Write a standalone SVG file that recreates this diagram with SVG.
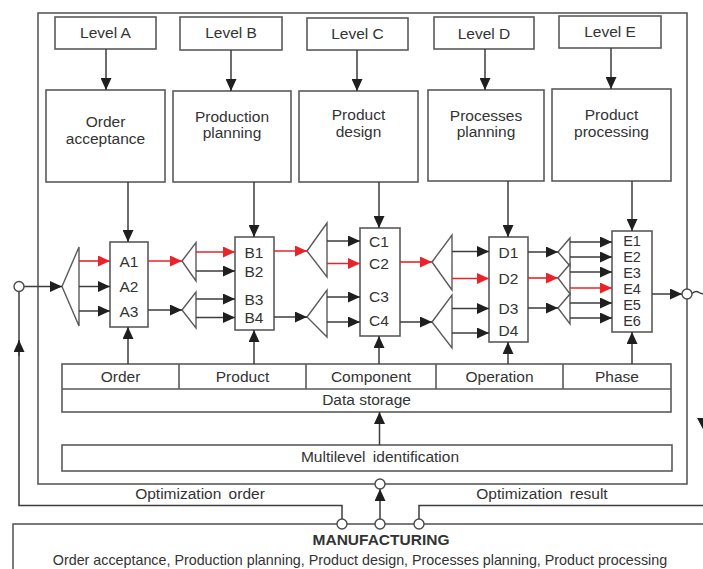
<svg xmlns="http://www.w3.org/2000/svg" width="703" height="569" viewBox="0 0 703 569">
  <style>
    .box { fill: #ffffff; stroke: #5a5a5a; stroke-width: 1.6; }
    .fan { fill: #ffffff; stroke: #5a5a5a; stroke-width: 1.4; }
    .ln { fill: none; stroke: #3d3d3d; stroke-width: 1.5; }
    .red { fill: none; stroke: #e8242a; stroke-width: 1.6; }
    .dot { fill: #ffffff; stroke: #4a4a4a; stroke-width: 1.4; }
    text { font-family: "Liberation Sans", Arial, sans-serif; font-size: 15.5px; fill: #333333; text-anchor: middle; }
    .bold { font-weight: bold; font-size: 15.5px; }
    .small { font-size: 14.5px; }
    .ws { word-spacing: 3px; }
  </style>
  <defs>
    <marker id="ah" markerUnits="userSpaceOnUse" markerWidth="12" markerHeight="11" refX="12" refY="5.5" orient="auto">
      <path d="M0,0 L12,5.5 L0,11 z" fill="#1f1f1f"/>
    </marker>
    <marker id="ahr" markerUnits="userSpaceOnUse" markerWidth="12" markerHeight="11" refX="12" refY="5.5" orient="auto">
      <path d="M0,0 L12,5.5 L0,11 z" fill="#e8242a"/>
    </marker>
  </defs>

  <rect width="703" height="569" fill="#ffffff"/>

  <!-- outer system frame -->
  <g id="frame">
    <rect class="box" x="38" y="13" width="649" height="471"/>
  </g>

  <!-- level headers -->
  <g id="level-a"><rect class="box" x="55" y="17" width="101" height="32"/><text x="105.5" y="37.5">Level A</text></g>
  <g id="level-b"><rect class="box" x="180" y="17" width="102" height="33"/><text x="231" y="38">Level B</text></g>
  <g id="level-c"><rect class="box" x="307" y="18" width="101" height="32"/><text x="357.5" y="39">Level C</text></g>
  <g id="level-d"><rect class="box" x="434" y="17" width="100" height="32"/><text x="484" y="38.5">Level D</text></g>
  <g id="level-e"><rect class="box" x="559" y="16" width="102" height="32"/><text x="610" y="37">Level E</text></g>

  <!-- function blocks -->
  <g id="order-acceptance"><rect class="box" x="46" y="90" width="119" height="92"/><text x="105.5" y="127">Order</text><text x="105.5" y="144">acceptance</text></g>
  <g id="production-planning"><rect class="box" x="173" y="91" width="118" height="91"/><text x="232" y="121.5">Production</text><text x="232" y="138">planning</text></g>
  <g id="product-design"><rect class="box" x="299" y="91" width="119" height="91"/><text x="358.5" y="120">Product</text><text x="358.5" y="136.5">design</text></g>
  <g id="processes-planning"><rect class="box" x="428" y="90" width="116" height="91"/><text x="486" y="120.5">Processes</text><text x="486" y="137">planning</text></g>
  <g id="product-processing"><rect class="box" x="552" y="89" width="119" height="92"/><text x="611.5" y="120">Product</text><text x="611.5" y="136.5">processing</text></g>

  <!-- element stacks -->
  <g id="stack-a">
    <rect class="box" x="110" y="242" width="38" height="85"/>
    <text x="129" y="266.5">A1</text><text x="129" y="292">A2</text><text x="129" y="316.5">A3</text>
  </g>
  <g id="stack-b">
    <rect class="box" x="235" y="237" width="39" height="93"/>
    <text x="254" y="257.5">B1</text><text x="254" y="276.5">B2</text><text x="254" y="304.5">B3</text><text x="254" y="323">B4</text>
  </g>
  <g id="stack-c">
    <rect class="box" x="360" y="228" width="40" height="108"/>
    <text x="379" y="246.5">C1</text><text x="379" y="269">C2</text><text x="379" y="302">C3</text><text x="379" y="326">C4</text>
  </g>
  <g id="stack-d">
    <rect class="box" x="489" y="237" width="39" height="105"/>
    <text x="508.5" y="257.5">D1</text><text x="508.5" y="283.5">D2</text><text x="508.5" y="313.5">D3</text><text x="508.5" y="335.5">D4</text>
  </g>
  <g id="stack-e">
    <rect class="box" x="612" y="231" width="40" height="101"/>
    <text class="small" x="632" y="246">E1</text><text class="small" x="632" y="262">E2</text><text class="small" x="632" y="278">E3</text>
    <text class="small" x="632" y="294">E4</text><text class="small" x="632" y="310">E5</text><text class="small" x="632" y="326">E6</text>
  </g>

  <!-- distribution fans -->
  <g id="fans">
    <polygon class="fan" points="62,286.5 79,247 79,326"/>
    <polygon class="fan" points="182,261 196,242.5 196,281"/>
    <polygon class="fan" points="182,310 196,292 196,328"/>
    <polygon class="fan" points="307,251 327,223 327,277"/>
    <polygon class="fan" points="307,317 327,290 327,337"/>
    <polygon class="fan" points="432,262 452,235 452,290"/>
    <polygon class="fan" points="432,322 452,295 452,348"/>
    <polygon class="fan" points="558,252 570,238 570,266"/>
    <polygon class="fan" points="558,278 570,264 570,294"/>
    <polygon class="fan" points="558,308 570,294 570,324"/>
  </g>

  <!-- data storage table -->
  <g id="data-storage">
    <rect class="box" x="62" y="364" width="609" height="48"/>
    <path class="box" d="M62,389 H671 M179,364 V389 M306,364 V389 M436,364 V389 M563,364 V389" fill="none"/>
    <text x="120.5" y="382">Order</text>
    <text x="242.5" y="382">Product</text>
    <text x="371" y="382">Component</text>
    <text x="499.5" y="382">Operation</text>
    <text x="617" y="382">Phase</text>
    <text x="366.5" y="405">Data storage</text>
  </g>

  <g id="multilevel-identification">
    <rect class="box" x="62" y="445" width="610" height="26"/>
    <text class="ws" x="380" y="462">Multilevel identification</text>
  </g>

  <g id="manufacturing">
    <rect class="box" x="13" y="524" width="700" height="60"/>
    <text class="bold" x="381" y="545">MANUFACTURING</text>
    <text class="small" x="360" y="565" style="font-size:14.3px">Order acceptance, Production planning, Product design, Processes planning, Product processing</text>
  </g>

  <g id="labels">
    <text class="ws" x="200" y="498.5">Optimization order</text>
    <text class="ws" x="542" y="498.5">Optimization result</text>
  </g>

  <!-- connectors -->
  <g id="connectors">
    <!-- level to function -->
    <line class="ln" x1="106" y1="49" x2="106" y2="90" marker-end="url(#ah)"/>
    <line class="ln" x1="231" y1="50" x2="231" y2="91" marker-end="url(#ah)"/>
    <line class="ln" x1="357" y1="50" x2="357" y2="91" marker-end="url(#ah)"/>
    <line class="ln" x1="485" y1="49" x2="485" y2="90" marker-end="url(#ah)"/>
    <line class="ln" x1="611" y1="48" x2="611" y2="89" marker-end="url(#ah)"/>
    <!-- function to stack -->
    <line class="ln" x1="128" y1="182" x2="128" y2="242" marker-end="url(#ah)"/>
    <line class="ln" x1="254" y1="182" x2="254" y2="237" marker-end="url(#ah)"/>
    <line class="ln" x1="379" y1="182" x2="379" y2="228" marker-end="url(#ah)"/>
    <line class="ln" x1="508" y1="181" x2="508" y2="237" marker-end="url(#ah)"/>
    <line class="ln" x1="632" y1="181" x2="632" y2="231" marker-end="url(#ah)"/>
    <!-- storage to stack -->
    <line class="ln" x1="128" y1="364" x2="128" y2="327" marker-end="url(#ah)"/>
    <line class="ln" x1="254" y1="364" x2="254" y2="330" marker-end="url(#ah)"/>
    <line class="ln" x1="379" y1="364" x2="379" y2="336" marker-end="url(#ah)"/>
    <line class="ln" x1="508" y1="364" x2="508" y2="342" marker-end="url(#ah)"/>
    <line class="ln" x1="632" y1="364" x2="632" y2="332" marker-end="url(#ah)"/>
    <line class="ln" x1="379.5" y1="445" x2="379.5" y2="412" marker-end="url(#ah)"/>

    <!-- input -->
    <line class="ln" x1="24" y1="286.5" x2="62" y2="286.5" marker-end="url(#ah)"/>
    <line class="red" x1="79" y1="261" x2="110" y2="261" marker-end="url(#ahr)"/>
    <line class="ln" x1="79" y1="286.5" x2="110" y2="286.5" marker-end="url(#ah)"/>
    <line class="ln" x1="79" y1="311" x2="110" y2="311" marker-end="url(#ah)"/>

    <!-- A to B -->
    <line class="red" x1="148" y1="261" x2="182" y2="261" marker-end="url(#ahr)"/>
    <line class="ln" x1="148" y1="310" x2="182" y2="310" marker-end="url(#ah)"/>
    <line class="red" x1="196" y1="252" x2="235" y2="252" marker-end="url(#ahr)"/>
    <line class="ln" x1="196" y1="271" x2="235" y2="271" marker-end="url(#ah)"/>
    <line class="ln" x1="196" y1="299" x2="235" y2="299" marker-end="url(#ah)"/>
    <line class="ln" x1="196" y1="317.5" x2="235" y2="317.5" marker-end="url(#ah)"/>

    <!-- B to C -->
    <line class="red" x1="274" y1="251" x2="307" y2="251" marker-end="url(#ahr)"/>
    <line class="ln" x1="274" y1="317" x2="307" y2="317" marker-end="url(#ah)"/>
    <line class="ln" x1="327" y1="241" x2="360" y2="241" marker-end="url(#ah)"/>
    <line class="red" x1="327" y1="263.5" x2="360" y2="263.5" marker-end="url(#ahr)"/>
    <line class="ln" x1="327" y1="297" x2="360" y2="297" marker-end="url(#ah)"/>
    <line class="ln" x1="327" y1="322" x2="360" y2="322" marker-end="url(#ah)"/>

    <!-- C to D -->
    <line class="red" x1="400" y1="262" x2="432" y2="262" marker-end="url(#ahr)"/>
    <line class="ln" x1="400" y1="322" x2="432" y2="322" marker-end="url(#ah)"/>
    <line class="ln" x1="452" y1="251.5" x2="489" y2="251.5" marker-end="url(#ah)"/>
    <line class="red" x1="452" y1="278.5" x2="489" y2="278.5" marker-end="url(#ahr)"/>
    <line class="ln" x1="452" y1="308.5" x2="489" y2="308.5" marker-end="url(#ah)"/>
    <line class="ln" x1="452" y1="333" x2="489" y2="333" marker-end="url(#ah)"/>

    <!-- D to E -->
    <line class="ln" x1="528" y1="252" x2="558" y2="252" marker-end="url(#ah)"/>
    <line class="red" x1="528" y1="278" x2="558" y2="278" marker-end="url(#ahr)"/>
    <line class="ln" x1="528" y1="308" x2="558" y2="308" marker-end="url(#ah)"/>
    <line class="ln" x1="570" y1="242" x2="612" y2="242" marker-end="url(#ah)"/>
    <line class="ln" x1="570" y1="257" x2="612" y2="257" marker-end="url(#ah)"/>
    <line class="ln" x1="570" y1="272" x2="612" y2="272" marker-end="url(#ah)"/>
    <line class="red" x1="570" y1="288" x2="612" y2="288" marker-end="url(#ahr)"/>
    <line class="ln" x1="570" y1="303" x2="612" y2="303" marker-end="url(#ah)"/>
    <line class="ln" x1="570" y1="318" x2="612" y2="318" marker-end="url(#ah)"/>

    <!-- output -->
    <line class="ln" x1="652" y1="294" x2="682" y2="294" marker-end="url(#ah)"/>
    <path class="ln" d="M691.5,294 q4,-4 7.5,-1.5 t8,0"/>
    <polygon points="697,418 711,418 704,431" fill="#1f1f1f"/>

    <!-- feedback loops -->
    <polyline class="ln" points="342,519 342,505.5 19,505.5 19,340"/>
    <line class="ln" x1="19" y1="356" x2="19" y2="340" marker-end="url(#ah)"/>
    <line class="ln" x1="19" y1="340" x2="19" y2="291.5"/>
    <line class="ln" x1="380" y1="519" x2="380" y2="489" marker-end="url(#ah)"/>
    <polyline class="ln" points="419,519 419,505.5 710,505.5"/>

    <circle class="dot" cx="19" cy="286.5" r="5"/>
    <circle class="dot" cx="687" cy="294" r="5"/>
    <circle class="dot" cx="380" cy="484" r="5"/>
    <circle class="dot" cx="342" cy="524" r="5"/>
    <circle class="dot" cx="380" cy="524" r="5"/>
    <circle class="dot" cx="419" cy="524" r="5"/>
  </g>
</svg>
